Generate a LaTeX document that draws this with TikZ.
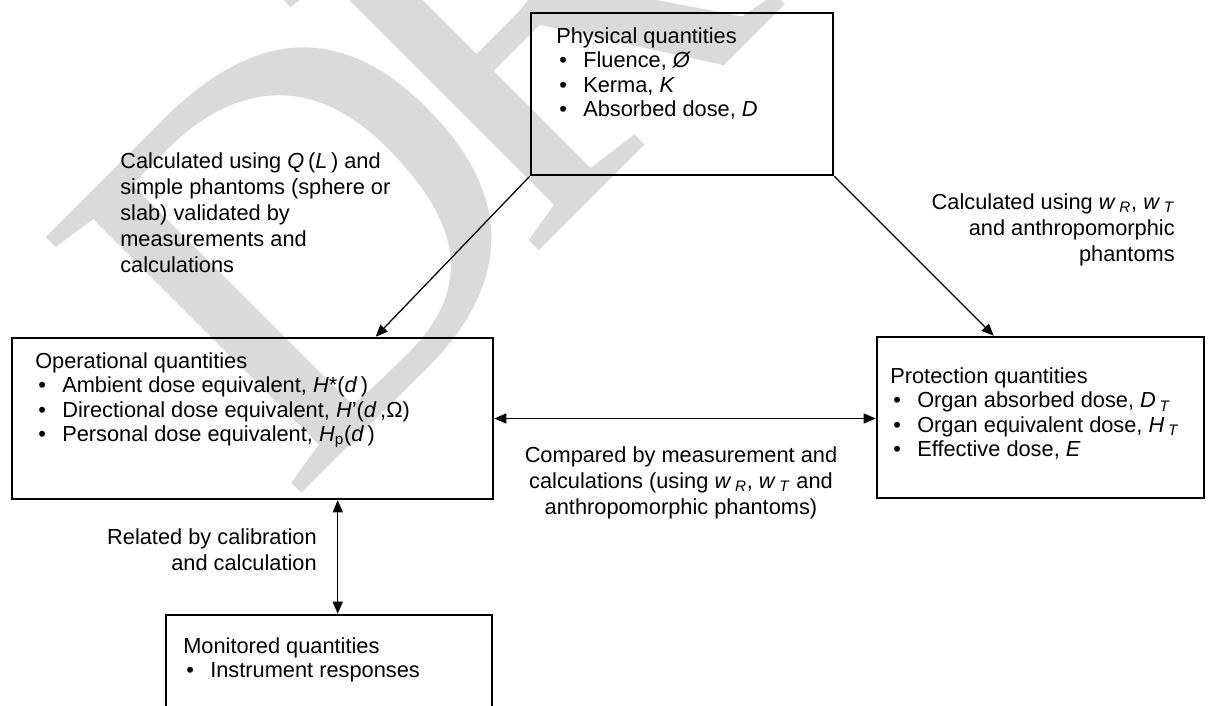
\documentclass[tikz,border=0pt]{standalone}
\usepackage{fontspec}
\setmainfont{Liberation Sans}
\newfontfamily\draftfont{Liberation Serif}
\usetikzlibrary{arrows.meta}
\definecolor{draftgray}{RGB}{218,218,218}
\tikzstyle{box} = [draw, line width=1.8pt, inner sep=0pt]
\tikzstyle{txt} = [inner sep=0pt, align=left, font=\fontsize{15.5}{17.5}\selectfont]
\tikzstyle{note} = [inner sep=0pt, font=\fontsize{15.5}{18.5}\selectfont]
\tikzstyle{wmark} = [text=draftgray, inner sep=0pt, anchor=base west, rotate=45, font=\draftfont\fontsize{393}{400}\selectfont]
\tikzstyle{arrow} = [line width=0.9pt, -{Triangle[length=0.3cm, width=0.25cm]}]
\tikzstyle{dblarrow} = [line width=0.9pt, {Triangle[length=0.3cm, width=0.25cm]}-{Triangle[length=0.3cm, width=0.25cm]}]
\newcommand{\itm}[1]{\makebox[0.675cm][l]{\hspace{0.075cm}\textbullet}#1}

\begin{document}
\begin{tikzpicture}
	\useasboundingbox (0,0) rectangle (30.45,17.65);
	\clip (0,0) rectangle (30.45,17.65);
	% watermark
	\node[wmark](wmd) at (7.25,5.025){D};
	\node[wmark](wmr) at (13.125,11.025){R};

	\node[box, minimum width=7.55cm, minimum height=4.05cm](phys) at (17.05,15.3){};
	\node[txt, anchor=north west](physt) at (13.9,16.975){Physical quantities\\
		\itm{Fluence, \textit{Ø}}\\
		\itm{Kerma, \textit{K}}\\
		\itm{Absorbed dose, \textit{D}}};

	\node[box, minimum width=12.025cm, minimum height=4.025cm](op) at (6.3125,7.1875){};
	\node[txt, anchor=north west](opt) at (0.875,8.85){Operational quantities\\
		\itm{Ambient dose equivalent, \textit{H}*(\textit{d}\,)}\\
		\itm{Directional dose equivalent, \textit{H}'(\textit{d}\,,Ω)}\\
		\itm{Personal dose equivalent, \textit{H}\textsubscript{p}(\textit{d}\,)}};

	\node[box, minimum width=8.175cm, minimum height=4.025cm](prot) at (26.0125,7.2125){};
	\node[txt, anchor=north west](prott) at (22.25,8.475){Protection quantities\\
		\itm{Organ absorbed dose, \textit{D}\,\textsubscript{\textit{T}}}\\
		\itm{Organ equivalent dose, \textit{H}\,\textsubscript{\textit{T}}}\\
		\itm{Effective dose, \textit{E}}};

	\node[box, minimum width=8.15cm, minimum height=3.625cm](mon) at (8.225,0.4625){};
	\node[txt, anchor=north west](mont) at (4.575,1.725){Monitored quantities\\
		\itm{Instrument responses}};

	% connectors
	\draw[arrow](phys.south west) -- ([xshift=9.125cm]op.north west);
	\draw[arrow](phys.south east) -- ([xshift=2.95cm]prot.north west);
	\draw[dblarrow](op.east) -- (op.east -| prot.west);
	\draw[dblarrow]([xshift=8.175cm]op.south west) -- ([xshift=8.175cm]op.south west |- mon.north);

	\node[note, align=left, anchor=north west](calcop) at (3.0,13.85){Calculated using \textit{Q}\,(\textit{L}\,) and\\
		simple phantoms (sphere or\\
		slab) validated by\\
		measurements and\\
		calculations};
	\node[note, align=right, anchor=north east](calcprot) at (29.375,12.825){Calculated using \textit{w}\,\textsubscript{\textit{R}}, \textit{w}\,\textsubscript{\textit{T}}\\
		and anthropomorphic\\
		phantoms};
	\node[note, align=center, anchor=north](comp) at (17.025,6.5){Compared by measurement and\\
		calculations (using \textit{w}\,\textsubscript{\textit{R}}, \textit{w}\,\textsubscript{\textit{T}} and\\
		anthropomorphic phantoms)};
	\node[note, align=right, anchor=north east](rel) at (7.925,4.45){Related by calibration\\
		and calculation};
\end{tikzpicture}
\end{document}
